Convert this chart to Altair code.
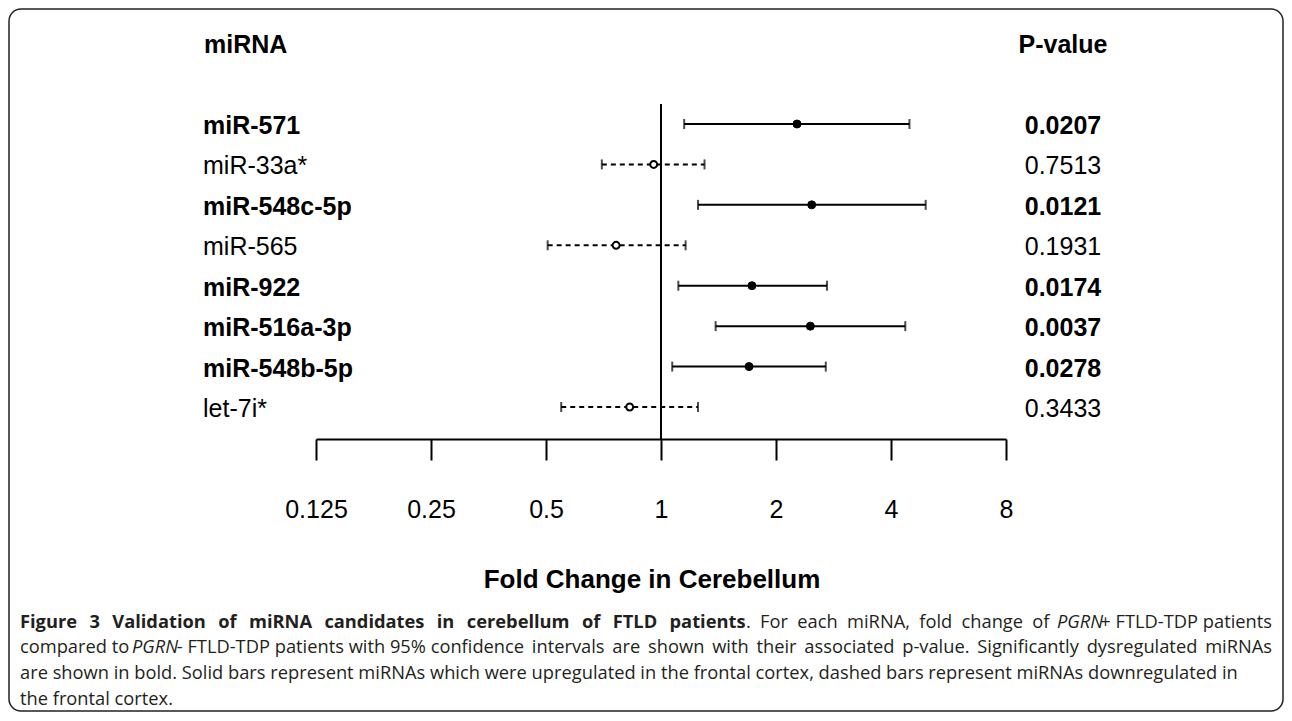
import altair as alt
import pandas as pd

# ---- data ----
mirna = ["miR-571", "miR-33a*", "miR-548c-5p", "miR-565", "miR-922",
         "miR-516a-3p", "miR-548b-5p", "let-7i*"]
fold_change = [2.27, 0.957, 2.48, 0.763, 1.73, 2.46, 1.70, 0.828]
ci_low = [1.15, 0.70, 1.25, 0.505, 1.11, 1.39, 1.07, 0.548]
ci_high = [4.47, 1.30, 4.93, 1.16, 2.72, 4.36, 2.70, 1.25]
p_values = ["0.0207", "0.7513", "0.0121", "0.1931", "0.0174", "0.0037", "0.0278", "0.3433"]
frontal_cortex = ["up", "down", "up", "down", "up", "up", "up", "down"]
tick_values = [0.125, 0.25, 0.5, 1, 2, 4, 8]
reference_fold = [1]

df = pd.DataFrame({
    "mirna": mirna,
    "fold": fold_change,
    "lo": ci_low,
    "hi": ci_high,
    "p": p_values,
    "reg": frontal_cortex,
})
df["row"] = list(range(len(mirna)))
df["sig"] = df["p"].astype(float) < 0.05

FONT = "Liberation Sans"
CAP_FONT = "Open Sans"
FS = 25

xscale = alt.Scale(type="log", base=2, domain=[0.125, 8], range=[308, 998])
axis = alt.Axis(values=tick_values, format=".3~g", grid=False, domainColor="black",
                domainWidth=2, tickColor="black", tickWidth=2, tickSize=21,
                labelFontSize=FS, labelFont=FONT, labelColor="black",
                labelPadding=37, labelFlush=False, labelOverlap=False, title=None)
yscale = alt.Scale(domain=[0, 7], range=[116, 399])


def X(field):
    return alt.X(field, type="quantitative", scale=xscale, axis=axis, title=None)


Y = alt.Y("row:Q", scale=yscale, axis=None)

base = alt.Chart(df)

ref_rule = alt.Chart(pd.DataFrame({"fold": reference_fold})).mark_rule(
    color="black", strokeWidth=2).encode(x=X("fold"), y=alt.value(96), y2=alt.value(431))

solid = base.transform_filter("datum.reg == 'up'")
dashed = base.transform_filter("datum.reg == 'down'")

bar_up = solid.mark_rule(color="black", strokeWidth=2).encode(x=X("lo"), x2="hi:Q", y=Y)
bar_down = dashed.mark_rule(color="black", strokeWidth=2, strokeDash=[5, 4]).encode(
    x=X("lo"), x2="hi:Q", y=Y)

cap_lo = base.mark_tick(orient="vertical", size=10, thickness=2, color="black").encode(x=X("lo"), y=Y)
cap_hi = base.mark_tick(orient="vertical", size=10, thickness=2, color="black").encode(x=X("hi"), y=Y)

pt_up = solid.mark_point(shape="circle", filled=True, fill="black", stroke="black",
                         strokeWidth=1, size=64, opacity=1).encode(x=X("fold"), y=Y)
pt_down = dashed.mark_point(shape="circle", filled=True, fill="white", stroke="black",
                            strokeWidth=2, size=48, opacity=1).encode(x=X("fold"), y=Y)

lab_bold = base.transform_filter("datum.sig").mark_text(
    align="left", baseline="middle", dy=2, font=FONT, fontSize=FS, fontWeight="bold",
    color="black").encode(x=alt.value(195), y=Y, text="mirna:N")
lab_norm = base.transform_filter("!datum.sig").mark_text(
    align="left", baseline="middle", dy=2, font=FONT, fontSize=FS,
    color="black").encode(x=alt.value(195), y=Y, text="mirna:N")
p_bold = base.transform_filter("datum.sig").mark_text(
    align="center", baseline="middle", dy=2, font=FONT, fontSize=FS, fontWeight="bold",
    color="black").encode(x=alt.value(1055), y=Y, text="p:N")
p_norm = base.transform_filter("!datum.sig").mark_text(
    align="center", baseline="middle", dy=2, font=FONT, fontSize=FS,
    color="black").encode(x=alt.value(1055), y=Y, text="p:N")


def label(text, x, y, size=FS, weight="normal", style="normal", align="left", font=FONT,
          color="black"):
    return alt.Chart(pd.DataFrame({"t": [text]})).mark_text(
        align=align, baseline="middle", font=font, fontSize=size, fontWeight=weight,
        fontStyle=style, color=color).encode(x=alt.value(x), y=alt.value(y), text="t:N")


head_mirna = label("miRNA", 196, 37, weight="bold")
head_p = label("P-value", 1055, 37, weight="bold", align="center")
x_title = label("Fold Change in Cerebellum", 644, 572, size=26, weight="bold", align="center")

frame = alt.Chart(pd.DataFrame({"a": [0]})).mark_rect(
    filled=False, stroke="#222222", strokeWidth=1.5, cornerRadius=12).encode(
    x=alt.value(1), x2=alt.value(1275), y=alt.value(1), y2=alt.value(703))

CS = 18.3
capcol = "#231f20"


def cap(text, x, y, align="left", weight="normal", style="normal", gap="", skip=0):
    # widen word gaps (after the first `skip` ones) with extra unicode spaces,
    # imitating the justified caption of the reference
    if gap:
        words = text.split(" ")
        out = words[0]
        for i, w in enumerate(words[1:]):
            out += (" " if i < skip else " " + gap) + w
        text = out
    return label(text, x, y, size=CS, weight=weight, style=style, align=align,
                 font=CAP_FONT, color=capcol)


L1, L2, L3, L4 = 615, 640, 666, 692
caption = [
    cap("Figure 3 Validation of miRNA candidates in cerebellum of FTLD patients", 12, L1,
        weight="bold", gap="\u2005\u2006"),
    cap(". For each miRNA, fold change of", 738, L1, gap="\u2005"),
    cap("PGRN", 1095, L1, style="italic", align="right"),
    cap("+ FTLD-TDP patients", 1264, L1, align="right"),

    cap("compared to", 12, L2),
    cap("PGRN", 124, L2, style="italic"),
    cap("- FTLD-TDP patients with 95% confidence intervals are shown with their "
        "associated p-value. Significantly dysregulated miRNAs", 1264, L2, align="right",
        gap="\u2006", skip=5),

    cap("are shown in bold. Solid bars represent miRNAs which were upregulated in the "
        "frontal cortex, dashed bars represent miRNAs downregulated in", 12, L3),

    cap("the frontal cortex.", 12, L4),
]

chart = alt.layer(
    frame, ref_rule, bar_up, bar_down, cap_lo, cap_hi, pt_up, pt_down,
    lab_bold, lab_norm, p_bold, p_norm, head_mirna, head_p, x_title, *caption
).properties(
    width=1276, height=431,
    padding={"left": 0, "right": 0, "top": 0, "bottom": 273},
    autosize=alt.AutoSizeParams(type="none"),
    background="white",
).configure_view(stroke=None)

chart.save("out.html", embed_options={"renderer": "svg", "actions": False})
